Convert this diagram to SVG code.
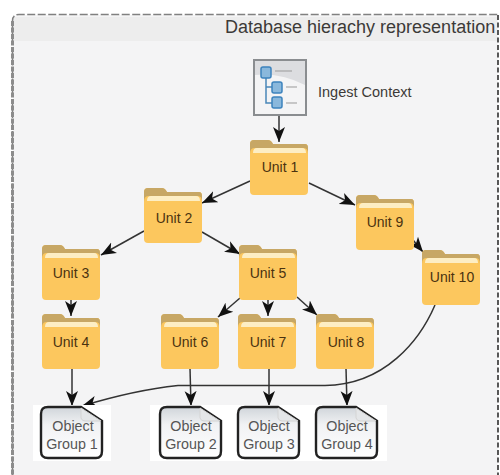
<svg xmlns="http://www.w3.org/2000/svg" width="500" height="475" viewBox="0 0 500 475">
<style>
text{font-family:"Liberation Sans",Arial,sans-serif;font-size:14px;fill:#3c3a38}
.u{text-anchor:middle;fill:#4a3210}
.o{text-anchor:middle;fill:#555;font-size:14.3px}
.c{fill:none;stroke:#333;stroke-width:1.5}
</style>
<defs>
<marker id="a" markerWidth="16" markerHeight="14" refX="15" refY="7" orient="auto" markerUnits="userSpaceOnUse"><path d="M0 1L15 7L0 13L4 7Z" fill="#111"/></marker>
<linearGradient id="d" x1="0" y1="0" x2="0" y2="1"><stop offset="0" stop-color="#d0d5da"/><stop offset=".35" stop-color="#f1f2f4"/><stop offset="1" stop-color="#fff"/></linearGradient>
<g id="f"><path d="M0 4Q0 0 4 0H18Q21 0 23 4H55Q58 4 58 8V51Q58 55 54 55H4Q0 55 0 51Z" fill="#fcc75e"/><path d="M0 14V4Q0 0 4 0H18Q21 0 23 4H55Q58 4 58 8V14Q58 8 54 8H4Q0 8 0 14Z" fill="#c7a765"/><path d="M3 13Q3 8 7 8H52Q56 8 56 13Z" fill="#fdeec4"/></g>
<g id="g"><path d="M7 0H40L61 14V44Q61 51 55 51H7Q0 51 0 44V7Q0 0 7 0Z" fill="url(#d)" stroke="#222" stroke-width="2.4"/><path d="M40 1V11Q41 14 44 14H60Z" fill="#e4e6e8" stroke="#d4d4d4"/></g>
</defs>
<rect width="500" height="475" fill="#fff"/>
<path d="M13 475V21Q13 15 19 15H498V475Z" fill="#f4f4f5"/>
<path d="M14 41V17H497V41Z" fill="#ededed"/>
<path d="M12.500 475V21Q12.500 14.500 19 14.500H498" fill="none" stroke="#808080" stroke-width="1.500" stroke-dasharray="8 2.500"/>
<path d="M12.500 21V475" fill="none" stroke="#8c8c8c" stroke-width="3" stroke-dasharray="5 1.500"/>
<path d="M498 15V475" fill="none" stroke="#222" stroke-width="1.500" stroke-dasharray="5 2.500"/>
<text x="225" y="33" style="font-size:18px">Database hierachy representation</text>

<g id="connectors">
<path class="c" d="M279 115V142" marker-end="url(#a)"/>
<path class="c" d="M250 181L202 203" marker-end="url(#a)"/>
<path class="c" d="M309 183L355 205" marker-end="url(#a)"/>
<path class="c" d="M144 231L101 255" marker-end="url(#a)"/>
<path class="c" d="M202 232L240 254" marker-end="url(#a)"/>
<path class="c" d="M413 240L423 252" marker-end="url(#a)"/>
<path class="c" d="M71 299V316" marker-end="url(#a)"/>
<path class="c" d="M240 298L218 317" marker-end="url(#a)"/>
<path class="c" d="M268 299V316" marker-end="url(#a)"/>
<path class="c" d="M297 297L317 315" marker-end="url(#a)"/>
<path class="c" d="M72 368V406" marker-end="url(#a)"/>
<path class="c" d="M190 368L191 406" marker-end="url(#a)"/>
<path class="c" d="M269 368V406" marker-end="url(#a)"/>
<path class="c" d="M346 368L347 406" marker-end="url(#a)"/>
<path class="c" d="M435 305C420 340 385 385 325 385.500H178Q135 390 82 406" marker-end="url(#a)"/>
</g>

<g id="ingest">
<rect x="254" y="60" width="52" height="55" fill="#f4f4f5" stroke="#8a8d90" stroke-width="2"/>
<path d="M255 61H305V85Q280 72 255 75Z" fill="#dcdde0"/>
<path d="M266 76V103H272M266 87H272" fill="none" stroke="#4a87b8" stroke-width="1.500"/>
<rect x="261" y="67" width="10" height="11" rx="2" fill="#8ab8dc" stroke="#3d83bd" stroke-width="1.500"/>
<rect x="272" y="82" width="10" height="11" rx="2" fill="#8ab8dc" stroke="#3d83bd" stroke-width="1.500"/>
<rect x="272" y="97" width="10" height="11" rx="2" fill="#8ab8dc" stroke="#3d83bd" stroke-width="1.500"/>
<path d="M275 71H292M286 87H297M286 103H297" stroke="#999" stroke-width="1"/>
<text x="318" y="97" style="font-size:14.500px">Ingest Context</text>
</g>

<g id="unit1"><use href="#f" x="250" y="140"/><text class="u" x="280" y="172">Unit 1</text></g>
<g id="unit2"><use href="#f" x="144" y="188"/><text class="u" x="174" y="223">Unit 2</text></g>
<g id="unit3"><use href="#f" x="42" y="245"/><text class="u" x="71" y="278">Unit 3</text></g>
<g id="unit5"><use href="#f" x="239" y="245"/><text class="u" x="268" y="278">Unit 5</text></g>
<g id="unit9"><use href="#f" x="356" y="195"/><text class="u" x="385" y="227">Unit 9</text></g>
<g id="unit10"><use href="#f" x="422" y="250"/><text class="u" x="452" y="282">Unit 10</text></g>
<g id="unit4"><use href="#f" x="42" y="314"/><text class="u" x="71" y="347">Unit 4</text></g>
<g id="unit6"><use href="#f" x="161" y="314"/><text class="u" x="190" y="347">Unit 6</text></g>
<g id="unit7"><use href="#f" x="238" y="314"/><text class="u" x="268" y="347">Unit 7</text></g>
<g id="unit8"><use href="#f" x="316" y="314"/><text class="u" x="346" y="347">Unit 8</text></g>

<g id="group1"><rect x="33" y="405" width="78" height="56" fill="#fff"/><use href="#g" x="41" y="407"/><text class="o" x="73" y="431">Object</text><text class="o" x="72" y="449">Group 1</text></g>
<g id="group2"><rect x="150" y="405" width="80" height="56" fill="#fff"/><use href="#g" x="160" y="407"/><text class="o" x="191" y="431">Object</text><text class="o" x="191" y="449">Group 2</text></g>
<g id="group3"><rect x="230" y="405" width="78" height="56" fill="#fff"/><use href="#g" x="238" y="407"/><text class="o" x="269" y="431">Object</text><text class="o" x="269" y="449">Group 3</text></g>
<g id="group4"><rect x="308" y="405" width="79" height="56" fill="#fff"/><use href="#g" x="316" y="407"/><text class="o" x="347" y="431">Object</text><text class="o" x="347" y="449">Group 4</text></g>
</svg>
